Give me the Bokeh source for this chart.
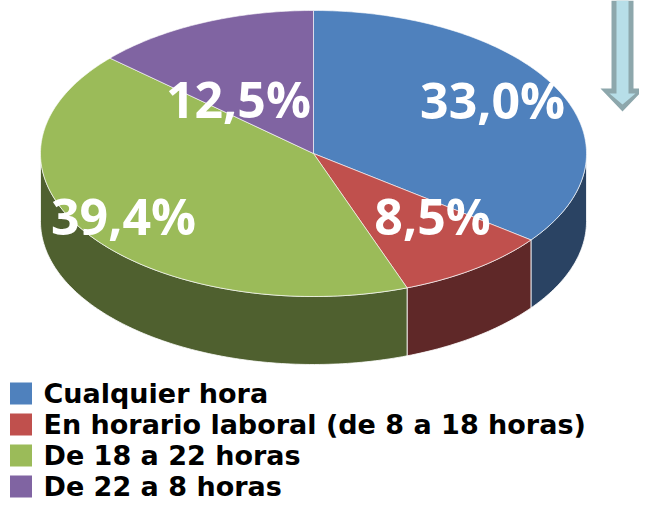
import numpy as np
from bokeh.plotting import figure
from bokeh.models import Range1d, ColumnDataSource
from bokeh.core.properties import value
from bokeh.embed import file_html
from bokeh.resources import INLINE

# ---- data ----
categories = ["Cualquier hora", "En horario laboral (de 8 a 18 horas)",
              "De 18 a 22 horas", "De 22 a 8 horas"]
values = [33.0, 8.5, 39.4, 12.5]
labels = ["33,0%", "8,5%", "39,4%", "12,5%"]

# ---- styles ----
top_colors = ["#4F81BD", "#C0504D", "#9BBB59", "#8064A2"]
side_colors = ["#2A4363", "#5F2828", "#4F602F", "#433354"]

# ---- layout (pixel coordinates) ----
W, H = 639, 503
CX, CY, RX, RY, DEPTH = 313.0, 153.0, 273.0, 143.0, 68.0
label_ox = [0.656, 0.436, -0.696, -0.275]
label_oy = [-0.371, 0.434, 0.434, -0.378]
AX = 622.0  # arrow axis

p = figure(width=W, height=H, output_backend="svg", toolbar_location=None,
           x_range=Range1d(0, W), y_range=Range1d(H, 0),
           min_border=0, outline_line_color=None)
p.axis.visible = False
p.grid.visible = False
p.background_fill_color = "white"
p.border_fill_color = "white"


def arc(a0, a1, dy=0.0):
    n = max(3, int(abs(a1 - a0)) + 2)
    t = np.radians(np.linspace(a0, a1, n))
    return list(CX + RX * np.sin(t)), list(CY - RY * np.cos(t) + dy)


vals = np.array(values, dtype=float)
ang = np.concatenate([[0.0], np.cumsum(vals / vals.sum() * 360.0)])

# sides
sx, sy, sc = [], [], []
for i in range(len(vals)):
    a0, a1 = max(ang[i], 90.0), min(ang[i + 1], 270.0)
    if a1 > a0:
        tx, ty = arc(a0, a1)
        bx, by = arc(a0, a1, DEPTH)
        sx.append(tx + bx[::-1])
        sy.append(ty + by[::-1])
        sc.append(side_colors[i])
p.patches(sx, sy, fill_color=sc, line_color="white", line_width=1, line_alpha=0.8)

# top faces
tx_all, ty_all = [], []
for i in range(len(vals)):
    ax_, ay_ = arc(ang[i], ang[i + 1])
    tx_all.append([CX] + ax_)
    ty_all.append([CY] + ay_)
p.patches(tx_all, ty_all, fill_color=top_colors, line_color="white",
          line_width=1, line_alpha=0.6)

# data labels
lsrc = ColumnDataSource(dict(
    x=[CX + o * RX for o in label_ox],
    y=[CY + o * RY for o in label_oy],
    t=labels))
p.text("x", "y", text="t", source=lsrc, text_color="white",
       text_font=value("Open Sans"), text_font_style="bold",
       text_font_size="50px", text_align="center", text_baseline="middle")

# arrow
p.patch([AX - 11, AX + 11, AX + 11, AX + 22, AX, AX - 22, AX - 11],
        [0, 0, 88, 88, 111, 88, 88], fill_color="#8DA7AC", line_color=None)
p.patch([AX - 6, AX + 6, AX + 6, AX + 13, AX, AX - 13, AX - 6],
        [0, 0, 93, 93, 104, 93, 93], fill_color="#B7DEE8", line_color=None)

# legend
row_y = [393 + 31 * i for i in range(len(categories))]
p.rect(x=[20.5] * len(categories), y=row_y, width=22, height=22,
       fill_color=top_colors, line_color=None)
p.text(x=[43] * len(categories), y=row_y, text=categories,
       text_color="black", text_font=value("DejaVu Sans"), text_font_style="bold",
       text_font_size="27px", text_align="left", text_baseline="middle")

open("out.html", "w").write(file_html(p, INLINE))
